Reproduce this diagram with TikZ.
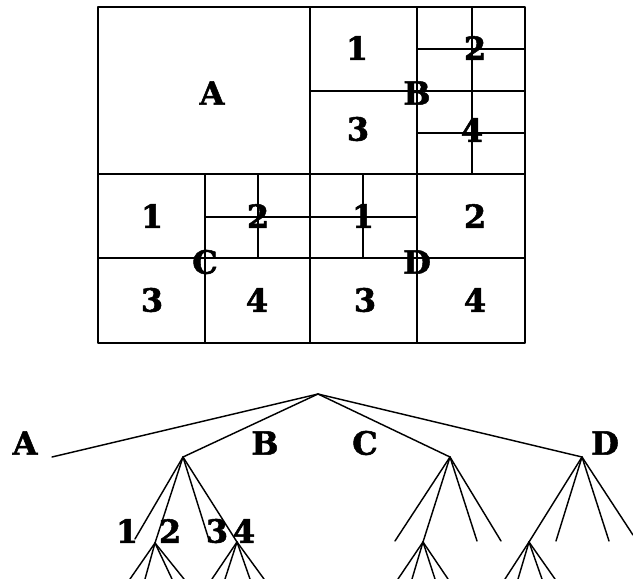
\documentclass[tikz,border=0pt]{standalone}
\usepackage{fontspec}
\setmainfont{DejaVu Serif}[BoldFeatures={FakeBold=1.6}]
\begin{document}
\begin{tikzpicture}[x=1pt,y=-1pt,
  lbl/.style={font=\bfseries\fontsize{32}{32}\selectfont, inner sep=0pt},
  ln/.style={line width=1.2pt, line cap=round, line join=round},
  tl/.style={line width=1.45pt, line cap=round, line join=round}]
\useasboundingbox[fill=white] (0,0) rectangle (633,579);
% ---------- quadtree grid ----------
\draw[ln] (98,7) rectangle (525,343);
\draw[ln] (310,7) -- (310,343);
\draw[ln] (98,174) -- (525,174);
% B
\draw[ln] (310,91) -- (525,91);
\draw[ln] (417,7) -- (417,174);
\draw[ln] (472,7) -- (472,174);
\draw[ln] (417,49) -- (525,49);
\draw[ln] (417,133) -- (525,133);
% C and D
\draw[ln] (98,258) -- (525,258);
\draw[ln] (205,174) -- (205,343);
\draw[ln] (417,174) -- (417,343);
\draw[ln] (205,217) -- (417,217);
\draw[ln] (258,174) -- (258,258);
\draw[ln] (363,174) -- (363,258);
% grid labels
\node[lbl] (gA) at (212,93) {A};
\node[lbl] (gB1) at (357,48) {1};
\node[lbl] (gB2) at (475,48) {2};
\node[lbl] (gB) at (417,93) {B};
\node[lbl] (gB3) at (358,129) {3};
\node[lbl] (gB4) at (472,130) {4};
\node[lbl] (gC1) at (152,216) {1};
\node[lbl] (gC2) at (258,216) {2};
\node[lbl] (gC) at (205,262) {C};
\node[lbl] (gC3) at (152,300) {3};
\node[lbl] (gC4) at (257,300) {4};
\node[lbl] (gD1) at (363,216) {1};
\node[lbl] (gD2) at (475,216) {2};
\node[lbl] (gD) at (417,262) {D};
\node[lbl] (gD3) at (365,300) {3};
\node[lbl] (gD4) at (475,300) {4};
% ---------- tree ----------
\coordinate (r) at (318,394);
\coordinate (tA) at (52,457);
\coordinate (tB) at (183,457);
\coordinate (tC) at (450,457);
\coordinate (tD) at (582,457);
\draw[tl] (r) -- (tA);
\draw[tl] (r) -- (tB);
\draw[tl] (r) -- (tC);
\draw[tl] (r) -- (tD);
\node[lbl] (lA) at (25,443) {A};
\node[lbl] (lB) at (265,443) {B};
\node[lbl] (lC) at (365,443) {C};
\node[lbl] (lD) at (605,443) {D};
% B's children
\coordinate (b1) at (135,539);
\coordinate (b2) at (155,543);
\coordinate (b3) at (209,540);
\coordinate (b4) at (237,542);
\foreach \c in {b1,b2,b3,b4} \draw[tl] (tB) -- (\c);
\node[lbl] (l1) at (127,531) {1};
\node[lbl] (l2) at (170,531) {2};
\node[lbl] (l3) at (217,531) {3};
\node[lbl] (l4) at (244,531) {4};
\coordinate (b21) at (130,579);
\coordinate (b22) at (145,579);
\coordinate (b23) at (172,579);
\coordinate (b24) at (184,579);
\foreach \c in {b21,b22,b23,b24} \draw[tl] (b2) -- (\c);
\coordinate (b41) at (212,579);
\coordinate (b42) at (225,579);
\coordinate (b43) at (250,579);
\coordinate (b44) at (264,579);
\foreach \c in {b41,b42,b43,b44} \draw[tl] (b4) -- (\c);
% C's children
\coordinate (c1) at (395,541);
\coordinate (c2) at (423,542);
\coordinate (c3) at (477,541);
\coordinate (c4) at (501,541);
\foreach \c in {c1,c2,c3,c4} \draw[tl] (tC) -- (\c);
\coordinate (c21) at (398,579);
\coordinate (c22) at (412,579);
\coordinate (c23) at (435,579);
\coordinate (c24) at (448,579);
\foreach \c in {c21,c22,c23,c24} \draw[tl] (c2) -- (\c);
% D's children
\coordinate (d1) at (529,542);
\coordinate (d2) at (556,541);
\coordinate (d3) at (609,541);
\coordinate (d4) at (633,535);
\foreach \c in {d1,d2,d3,d4} \draw[tl] (tD) -- (\c);
\coordinate (d11) at (505,579);
\coordinate (d12) at (518,579);
\coordinate (d13) at (542,579);
\coordinate (d14) at (555,579);
\foreach \c in {d11,d12,d13,d14} \draw[tl] (d1) -- (\c);
\end{tikzpicture}
\end{document}
